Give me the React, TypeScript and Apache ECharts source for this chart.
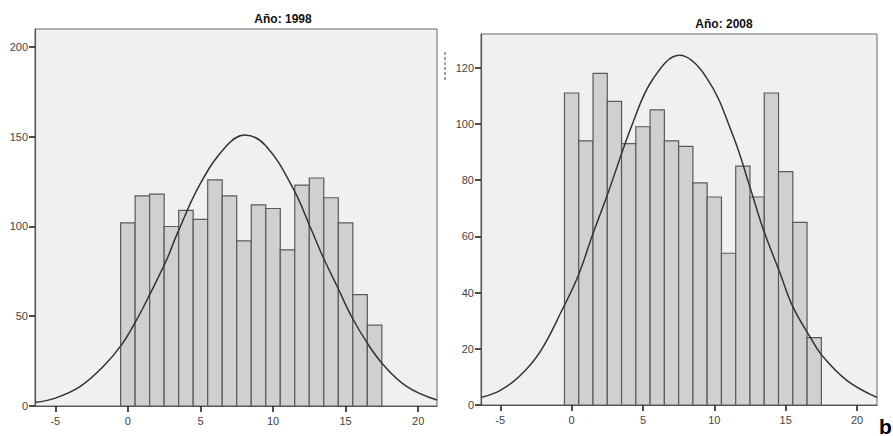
import React, { useEffect, useRef } from "react";
import * as echarts from "echarts";

const titles = ["Año: 1998", "Año: 2008"];
const binCenters = [0, 1, 2, 3, 4, 5, 6, 7, 8, 9, 10, 11, 12, 13, 14, 15, 16, 17];
const counts1998 = [102, 117, 118, 100, 109, 104, 126, 117, 92, 112, 110, 87, 123, 127, 116, 102, 62, 45];
const counts2008 = [111, 94, 118, 108, 93, 99, 105, 94, 92, 79, 74, 54, 85, 74, 111, 83, 65, 24];

// normal curve points
const curve1998X = [-6.4, -5, -3.3, -1.7, -0.4, 0.6, 1.5, 2.7, 3.4, 5, 6.8, 8.05, 9.5, 11.4, 12.6, 13.5, 14.4, 15.4, 16.5, 17.6, 19.2, 21.3];
const curve1998Y = [2, 4.4, 10.8, 22, 34.5, 48, 62, 82, 96, 124, 145, 151, 145, 121, 99, 82, 67, 50, 35, 23, 11, 3.3];
const curve2008X = [-6.35, -5, -3.6, -2.2, -0.6, 0.46, 1.5, 2.45, 4.3, 5.7, 7.55, 9.45, 11.3, 12.5, 13.4, 14.6, 15.5, 16.7, 17.6, 19.3, 21.4];
const curve2008Y = [2.7, 5.2, 10.5, 19, 34.5, 46, 61, 74, 100.5, 116, 124.4, 116.5, 96, 77.5, 63, 47, 35, 24.3, 17.3, 8.7, 2.7];

const yMax = [210, 132];
const yInterval = [50, 20];
const xMin = [-6.4, -6.35];
const xMax = [21.3, 21.4];

const FONT = "'Liberation Sans', Arial, sans-serif";

export default function App() {
  const ref = useRef<HTMLDivElement>(null);
  useEffect(() => {
    if (!ref.current) return;
    const chart = echarts.init(ref.current, null, { renderer: "svg" });
    const grids = [
      { left: 35, top: 29, width: 402, height: 377 },
      { left: 481, top: 34, width: 396, height: 371 },
    ];
    const counts = [counts1998, counts2008];
    const curves = [
      curve1998X.map((x, i) => [x, curve1998Y[i]]),
      curve2008X.map((x, i) => [x, curve2008Y[i]]),
    ];
    const renderBar = (params: any, api: any) => {
      const x = api.value(0);
      const y = api.value(1);
      const p0 = api.coord([x - 0.5, y]);
      const p1 = api.coord([x + 0.5, 0]);
      return {
        type: "rect",
        shape: { x: p0[0], y: p0[1], width: p1[0] - p0[0], height: p1[1] - p0[1] },
        style: { fill: "#d0d0d0", stroke: "#5a5a5a", lineWidth: 1.2 },
      };
    };
    const series: any[] = [];
    [0, 1].forEach((i) => {
      series.push({
        type: "custom",
        xAxisIndex: i,
        yAxisIndex: i,
        renderItem: renderBar,
        encode: { x: 0, y: 1 },
        data: binCenters.map((c, k) => [c, counts[i][k]]),
        z: 2,
      });
      series.push({
        type: "line",
        xAxisIndex: i,
        yAxisIndex: i,
        data: curves[i],
        smooth: 0.4,
        showSymbol: false,
        lineStyle: { color: "#333", width: 1.5 },
        z: 3,
      });
    });
    const tick = { show: true, inside: false, length: 6, lineStyle: { color: "#222", width: 1.6, opacity: 1 } };
    chart.setOption({
      animation: false,
      backgroundColor: "#fff",
      grid: grids.map((g) => ({
        ...g,
        show: true,
        backgroundColor: "#f0f0f0",
        borderColor: "#666",
        borderWidth: 1,
      })),
      xAxis: [0, 1].map((i) => ({
        type: "value",
        gridIndex: i,
        position: "bottom",
        min: xMin[i],
        max: xMax[i],
        z: 5,
        splitLine: { show: false },
        axisLine: { show: true, onZero: false, lineStyle: { color: "#555", width: 1.2 } },
        axisTick: tick,
        axisLabel: {
          showMinLabel: false,
          showMaxLabel: false,
          color: "#444",
          fontSize: 11,
          margin: 9,
          fontFamily: FONT,
          formatter: (v: number) => (Number.isInteger(v) && v % 5 === 0 ? String(v) : ""),
        },
      })),
      yAxis: [0, 1].map((i) => ({
        type: "value",
        gridIndex: i,
        position: "left",
        min: 0,
        max: yMax[i],
        interval: yInterval[i],
        z: 5,
        splitLine: { show: false },
        axisLine: { show: true, onZero: false, lineStyle: { color: "#555", width: 1.2 } },
        axisTick: tick,
        axisLabel: {
          showMaxLabel: false,
          color: "#444",
          fontSize: 11,
          margin: 7,
          fontFamily: FONT,
        },
      })),
      series,
      graphic: [
        {
          type: "text",
          x: 283,
          y: 19,
          style: {
            text: titles[0],
            fill: "#111",
            font: `bold 12px ${FONT}`,
            textAlign: "center",
            textVerticalAlign: "middle",
          },
        },
        {
          type: "text",
          x: 724,
          y: 24,
          style: {
            text: titles[1],
            fill: "#111",
            font: `bold 12px ${FONT}`,
            textAlign: "center",
            textVerticalAlign: "middle",
          },
        },
        {
          type: "line",
          shape: { x1: 445, y1: 52, x2: 445, y2: 80 },
          style: { stroke: "#444", lineWidth: 1, lineDash: [3, 2] },
        },
        {
          type: "text",
          x: 879,
          y: 426,
          style: {
            text: "b",
            fill: "#000",
            font: `bold 21px ${FONT}`,
            textAlign: "left",
            textVerticalAlign: "middle",
          },
        },
      ],
    });
    return () => chart.dispose();
  }, []);
  return (
    <div
      ref={ref}
      style={{ position: "fixed", left: 0, top: 0, width: 893, height: 436 }}
    />
  );
}
